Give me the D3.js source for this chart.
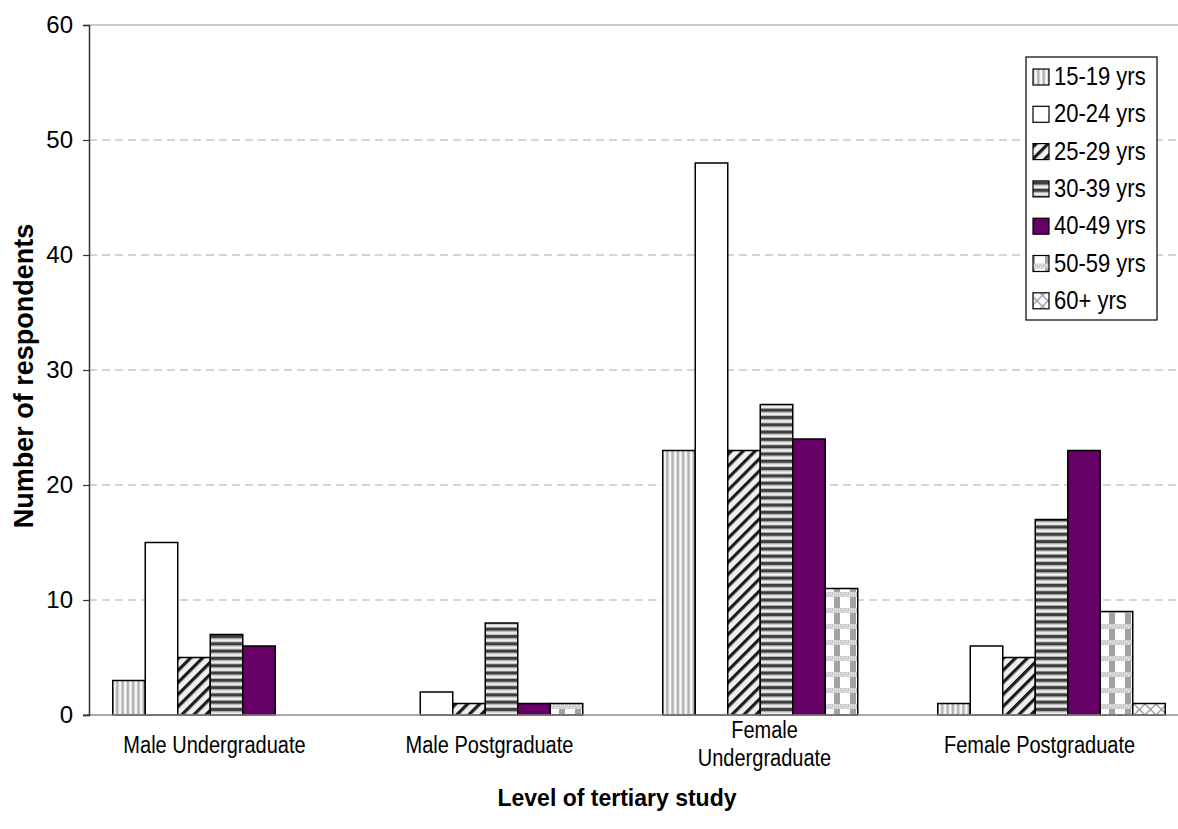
<!DOCTYPE html>
<html>
<head>
<meta charset="utf-8">
<script src="https://cdn.jsdelivr.net/npm/d3@7"></script>
<style>
  html, body { margin: 0; padding: 0; background: #fff; }
  svg { display: block; font-family: "Liberation Sans", Arial, sans-serif; }
</style>
</head>
<body>
<svg id="chart" width="1178" height="829"></svg>
<script>
// Respondents by level of tertiary study and age group
const categories = ["Male Undergraduate", "Male Postgraduate", "Female Undergraduate", "Female Postgraduate"];
const categoryLines = [["Male Undergraduate"], ["Male Postgraduate"], ["Female", "Undergraduate"], ["Female Postgraduate"]];
const ageGroups = ["15-19 yrs", "20-24 yrs", "25-29 yrs", "30-39 yrs", "40-49 yrs", "50-59 yrs", "60+ yrs"];
const age15to19 = [3, 0, 23, 1];
const age20to24 = [15, 2, 48, 6];
const age25to29 = [5, 1, 23, 5];
const age30to39 = [7, 8, 27, 17];
const age40to49 = [6, 1, 24, 23];
const age50to59 = [0, 1, 11, 9];
const age60plus = [0, 0, 0, 1];
const yTicks = [0, 10, 20, 30, 40, 50, 60];

const seriesValues = [age15to19, age20to24, age25to29, age30to39, age40to49, age50to59, age60plus];

const svg = d3.select("#chart");
const margin = { left: 89, top: 25, bottom: 715 };
const plotRight = 1189;

const x0 = d3.scaleBand().domain(categories).range([margin.left, plotRight]).paddingInner(0).paddingOuter(0);
const gap = x0.bandwidth() * 0.0864;
const x1 = d3.scaleBand().domain(ageGroups).range([gap, x0.bandwidth() - gap]).padding(0);
const y = d3.scaleLinear().domain([0, 60]).range([margin.bottom, margin.top]);

// Fill patterns for each age group
const defs = svg.append("defs");

const pVert = defs.append("pattern").attr("id", "fill0").attr("patternUnits", "userSpaceOnUse")
  .attr("width", 5.3).attr("height", 10);
pVert.append("rect").attr("width", 5.3).attr("height", 10).attr("fill", "#ffffff");
pVert.append("rect").attr("x", 0.4).attr("width", 2.6).attr("height", 10).attr("fill", "#b0b0b0");
pVert.append("rect").attr("x", 3).attr("width", 0.8).attr("height", 10).attr("fill", "#d6d6d6");

const pDiag = defs.append("pattern").attr("id", "fill2").attr("patternUnits", "userSpaceOnUse")
  .attr("width", 8.5).attr("height", 8.5).attr("patternTransform", "rotate(45)");
pDiag.append("rect").attr("width", 8.5).attr("height", 8.5).attr("fill", "#efefef");
pDiag.append("rect").attr("x", 0).attr("width", 3.2).attr("height", 8.5).attr("fill", "#1c1c1c");

const pHoriz = defs.append("pattern").attr("id", "fill3").attr("patternUnits", "userSpaceOnUse")
  .attr("width", 10).attr("height", 7.3);
pHoriz.append("rect").attr("width", 10).attr("height", 7.3).attr("fill", "#f2f2f2");
pHoriz.append("rect").attr("y", 0).attr("width", 10).attr("height", 3).attr("fill", "#3e3e3e");
pHoriz.append("rect").attr("y", 3).attr("width", 10).attr("height", 1).attr("fill", "#9a9a9a");
pHoriz.append("rect").attr("y", 6.3).attr("width", 10).attr("height", 1).attr("fill", "#b0b0b0");

const pCheck = defs.append("pattern").attr("id", "fill5").attr("patternUnits", "userSpaceOnUse")
  .attr("width", 16).attr("height", 16);
pCheck.append("rect").attr("width", 16).attr("height", 16).attr("fill", "#ffffff");
pCheck.append("rect").attr("x", 3).attr("y", 5).attr("width", 6).attr("height", 11).attr("fill", "#a2a2a2");
pCheck.append("rect").attr("y", 0).attr("width", 16).attr("height", 5).attr("fill", "#cdcdcd");
for (let i = 0; i < 8; i++) {
  pCheck.append("rect").attr("x", i * 2).attr("y", (i % 2) * 2 + 1).attr("width", 1).attr("height", 1).attr("fill", "#ffffff");
}

const pCross = defs.append("pattern").attr("id", "fill6").attr("patternUnits", "userSpaceOnUse")
  .attr("width", 11).attr("height", 11);
pCross.append("rect").attr("width", 11).attr("height", 11).attr("fill", "#ffffff");
pCross.append("path").attr("d", "M0,0L11,11M0,11L11,0").attr("stroke", "#9a9a9a").attr("stroke-width", 1.3);

const fills = ["url(#fill0)", "#ffffff", "url(#fill2)", "url(#fill3)", "#660066", "url(#fill5)", "url(#fill6)"];

// Gridlines
svg.append("g").selectAll("line").data(yTicks.filter(t => t > 0)).join("line")
  .attr("x1", margin.left).attr("x2", 1178)
  .attr("y1", d => y(d)).attr("y2", d => y(d))
  .attr("stroke", d => d === 60 ? "#9a9a9a" : "#aaaaaa")
  .attr("stroke-width", 1.2)
  .attr("stroke-dasharray", d => d === 60 ? null : "8,5");

// Bars
const groups = svg.append("g").selectAll("g").data(categories).join("g")
  .attr("transform", d => `translate(${x0(d)},0)`);

groups.selectAll("rect")
  .data((c, ci) => ageGroups.map((a, si) => ({ age: a, si, value: seriesValues[si][ci] })).filter(d => d.value > 0))
  .join("rect")
  .attr("x", d => x1(d.age))
  .attr("width", x1.bandwidth())
  .attr("y", d => y(d.value))
  .attr("height", d => y(0) - y(d.value))
  .attr("fill", d => fills[d.si])
  .attr("stroke", "#000")
  .attr("stroke-width", 1.5);

// X axis line
svg.append("line").attr("x1", 83).attr("x2", 1178).attr("y1", y(0)).attr("y2", y(0))
  .attr("stroke", "#8c8c8c").attr("stroke-width", 1.5);

// Y axis
const yAxis = svg.append("g").attr("transform", `translate(${margin.left},0)`)
  .call(d3.axisLeft(y).tickValues(yTicks).tickSize(6).tickPadding(10).tickFormat(d3.format("d")));
yAxis.select(".domain").attr("stroke", "#333").attr("stroke-width", 1.5);
yAxis.selectAll(".tick line").attr("stroke", "#333").attr("stroke-width", 1.2);
yAxis.selectAll(".tick text").attr("font-size", 24).attr("fill", "#000")
  .attr("font-family", "'Liberation Sans', Arial, sans-serif");

// Category labels (slightly tall lettering)
const catLabels = svg.append("g").selectAll("g").data(categories).join("g")
  .attr("transform", (d, i) => `translate(${x0(d) + x0.bandwidth() / 2 - 12},${categoryLines[i].length > 1 ? 738 : 753}) scale(1,1.15)`);
catLabels.append("text")
  .attr("text-anchor", "middle")
  .attr("font-size", 20)
  .attr("fill", "#000")
  .selectAll("tspan").data((d, i) => categoryLines[i]).join("tspan")
  .attr("x", 0)
  .attr("dy", (d, i) => i === 0 ? 0 : 24)
  .text(d => d);

// Axis titles
svg.append("text").attr("x", 617).attr("y", 806).attr("text-anchor", "middle")
  .attr("font-size", 23).attr("font-weight", "bold").text("Level of tertiary study");
svg.append("text").attr("transform", "translate(33,376) rotate(-90)").attr("text-anchor", "middle")
  .attr("font-size", 27).attr("font-weight", "bold").text("Number of respondents");

// Legend
const legend = svg.append("g").attr("transform", "translate(1026,57)");
legend.append("rect").attr("width", 131).attr("height", 263)
  .attr("fill", "#fff").attr("stroke", "#000").attr("stroke-width", 1.2);
const items = legend.selectAll("g.item").data(ageGroups).join("g").attr("class", "item")
  .attr("transform", (d, i) => `translate(0,${20 + i * 37.3})`);
items.append("rect").attr("x", 7).attr("y", -8).attr("width", 16).attr("height", 16)
  .attr("fill", (d, i) => fills[i]).attr("stroke", "#000").attr("stroke-width", 1.2);
items.append("g").attr("transform", "translate(28,8) scale(1,1.18)")
  .append("text").attr("font-size", 22).attr("fill", "#000").text(d => d);
</script>
</body>
</html>
